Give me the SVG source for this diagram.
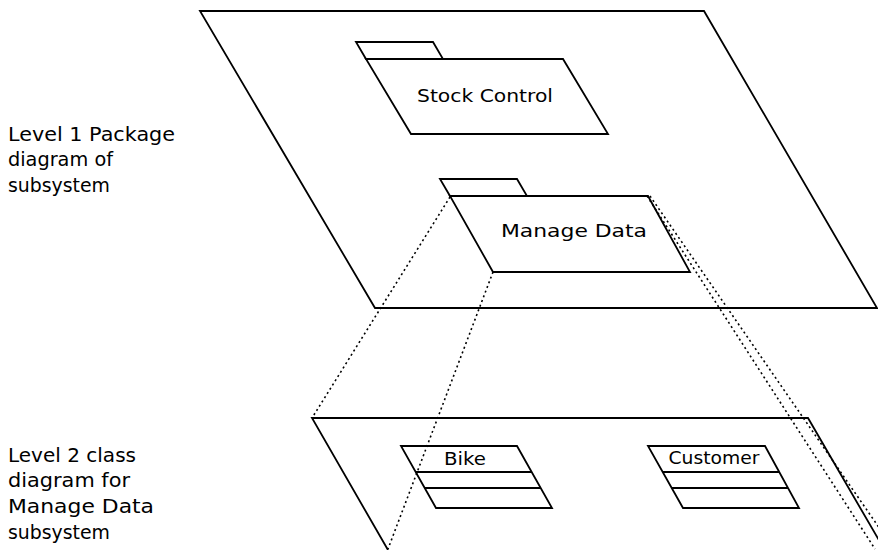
<svg xmlns="http://www.w3.org/2000/svg" width="878" height="550" viewBox="0 0 878 550">
<style>
.ln{fill:none;stroke:#000;stroke-width:1.8;stroke-linejoin:miter}
.dot{fill:none;stroke:#000;stroke-width:1.6;stroke-dasharray:2 3}
.lbl{font-family:"DejaVu Sans","Liberation Sans",sans-serif;font-size:20px;fill:#000}
.nm{font-family:"DejaVu Sans","Liberation Sans",sans-serif;font-size:17px;fill:#000;text-anchor:middle}
</style>
<rect width="878" height="550" fill="#fff"/>
<g id="level1-plane">
<polygon class="ln" points="200,11 704,11 877,308 375,308"/>
</g>
<g id="level2-plane">
<polyline class="ln" points="388,550 312,418 808,418 880,542"/>
</g>
<g id="stock-control">
<polygon class="ln" points="356,42 433,42 443,59 366,59"/>
<polygon class="ln" points="366,59 563,59 608,134 411,134"/>
<text class="nm" x="485" y="102" textLength="136" lengthAdjust="spacingAndGlyphs">Stock Control</text>
</g>
<g id="manage-data">
<polygon class="ln" points="440,179 517,179 527,196 450,196"/>
<polygon class="ln" points="450,196 648,196 690,272 493,272"/>
<text class="nm" x="574" y="237" textLength="146" lengthAdjust="spacingAndGlyphs">Manage Data</text>
</g>
<g id="connectors">
<line class="dot" x1="450" y1="197" x2="312" y2="418"/>
<line class="dot" x1="493" y1="272" x2="388" y2="549"/>
<line class="dot" x1="647" y1="196" x2="875" y2="549"/>
<line class="dot" x1="650" y1="196" x2="880" y2="529"/>
</g>
<g id="bike">
<polygon class="ln" points="401,446 517,446 552,508 436,508"/>
<line class="ln" x1="415.5" y1="472" x2="531.5" y2="472"/>
<line class="ln" x1="424.5" y1="488" x2="540.5" y2="488"/>
<text class="nm" x="465" y="465" textLength="42" lengthAdjust="spacingAndGlyphs">Bike</text>
</g>
<g id="customer">
<polygon class="ln" points="648,446 765,446 799,508 683,508"/>
<line class="ln" x1="662.5" y1="472" x2="779" y2="472"/>
<line class="ln" x1="671.5" y1="488" x2="788" y2="488"/>
<text class="nm" x="714" y="464" textLength="91" lengthAdjust="spacingAndGlyphs">Customer</text>
</g>
<g id="label-level1">
<text class="lbl" x="8" y="141" textLength="167" lengthAdjust="spacingAndGlyphs">Level 1 Package</text>
<text class="lbl" x="8" y="166" textLength="105" lengthAdjust="spacingAndGlyphs">diagram of</text>
<text class="lbl" x="8" y="192" textLength="102" lengthAdjust="spacingAndGlyphs">subsystem</text>
</g>
<g id="label-level2">
<text class="lbl" x="8" y="462" textLength="128" lengthAdjust="spacingAndGlyphs">Level 2 class</text>
<text class="lbl" x="8" y="487" textLength="122" lengthAdjust="spacingAndGlyphs">diagram for</text>
<text class="lbl" x="8" y="513" textLength="146" lengthAdjust="spacingAndGlyphs">Manage Data</text>
<text class="lbl" x="8" y="539" textLength="102" lengthAdjust="spacingAndGlyphs">subsystem</text>
</g>
</svg>
